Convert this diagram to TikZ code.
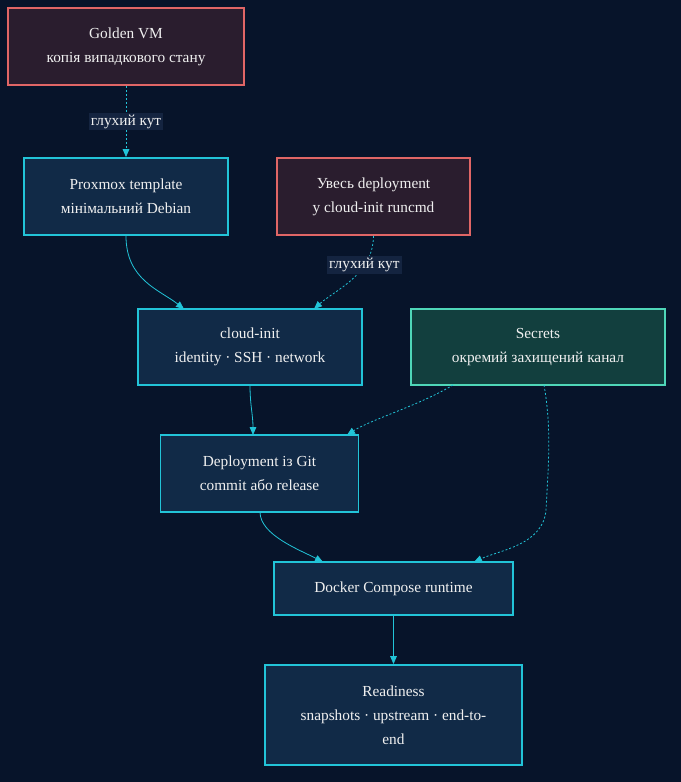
\documentclass[tikz,border=0pt]{standalone}
\usepackage{fontspec}
\setmainfont{Liberation Serif}
\usetikzlibrary{arrows.meta}
\definecolor{bg}{HTML}{07142A}
\definecolor{redb}{HTML}{E06666}
\definecolor{redf}{HTML}{2A1D2E}
\definecolor{cyb}{HTML}{22C4D8}
\definecolor{cyf}{HTML}{112A47}
\definecolor{grb}{HTML}{4FD6B8}
\definecolor{grf}{HTML}{123F3E}
\definecolor{lblf}{HTML}{142440}
\definecolor{txt}{HTML}{F0F0F0}
\begin{document}
\begin{tikzpicture}[x=0.75pt,y=-0.75pt,
 box/.style={draw, line width=1.4pt, text=txt, align=center, font=\fontsize{11.5}{18}\selectfont, inner sep=0pt},
 red/.style={box, draw=redb, fill=redf},
 cy/.style={box, draw=cyb, fill=cyf},
 gr/.style={box, draw=grb, fill=grf},
 ed/.style={draw=cyb, line width=0.6pt, -{Triangle[length=6pt,width=5pt]}},
 dt/.style={ed, dash pattern=on 1.5pt off 1.5pt},
 lbl/.style={fill=lblf, text=txt, font=\fontsize{11.5}{14}\selectfont, inner sep=1.5pt}]
\fill[bg] (0,0) rectangle (681,782);
\path[use as bounding box] (0,0) rectangle (681,782);
\node[red, minimum width=177pt, minimum height=57.75pt] (golden) at (126,46.5) {Golden VM\\копія випадкового стану};
\node[cy, minimum width=153pt, minimum height=57.75pt] (prox) at (126,196.5) {Proxmox template\\мінімальний Debian};
\node[red, minimum width=144.75pt, minimum height=57.75pt] (ves) at (373.5,196.5) {Увесь deployment\\у cloud-init runcmd};
\node[cy, minimum width=168pt, minimum height=57pt] (ci) at (250,347) {cloud-init\\identity · SSH · network};
\node[gr, minimum width=190.5pt, minimum height=57pt] (sec) at (538,347) {Secrets\\окремий захищений канал};
\node[cy, minimum width=148.5pt, minimum height=57.75pt] (dep) at (259.5,473.5) {Deployment із Git\\commit або release};
\node[cy, minimum width=179.25pt, minimum height=39.75pt] (dock) at (393.5,588.5) {Docker Compose runtime};
\node[cy, minimum width=192.75pt, minimum height=75pt] (ready) at (393.5,715) {Readiness\\snapshots · upstream · end-to-\\end};
\coordinate (s1) at (453,385);
\coordinate (s2) at (544,385);
\draw[dt] (golden.south) -- node[lbl]{глухий кут} (prox.north);
\draw[ed] (prox.south) .. controls (126,280) and (160,290) .. (184,309);
\draw[dt] (ves.south) .. controls (373,275) and (335,290) .. node[lbl, pos=0.3]{глухий кут} (314,309);
\draw[ed] (250,385) .. controls (250,405) and (253,415) .. (253,435);
\draw[dt] (s1) .. controls (420,405) and (370,420) .. (347,435);
\draw[ed] (260,512) .. controls (260,535) and (300,550) .. (323,562);
\draw[dt] (s2) .. controls (552,430) and (548,470) .. (546,510) .. controls (543,545) and (500,550) .. (474,562);
\draw[ed] (dock.south) -- (ready.north);
\end{tikzpicture}
\end{document}
